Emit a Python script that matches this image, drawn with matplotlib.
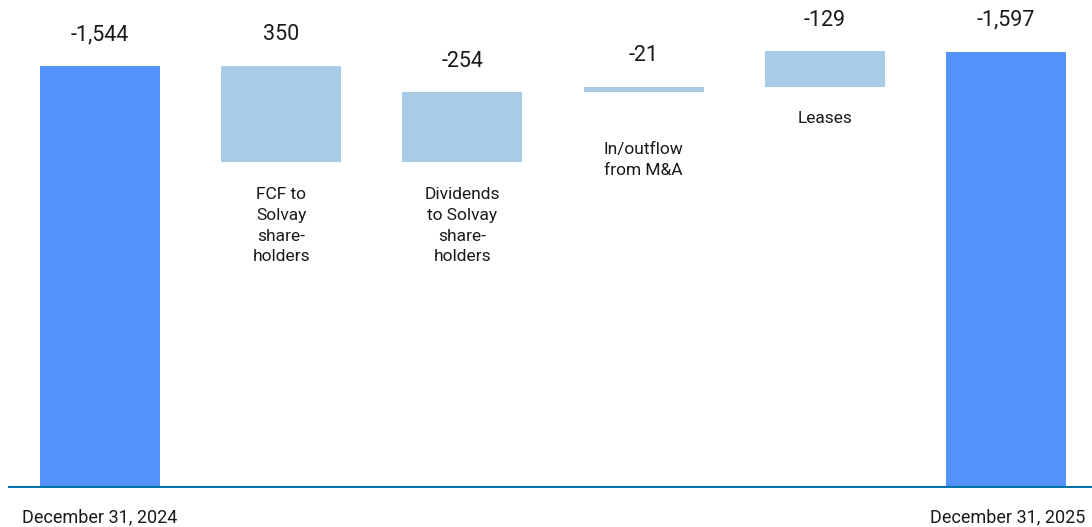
import matplotlib
matplotlib.use("Agg")
import matplotlib.pyplot as plt

plt.rcParams['font.family'] = ['Roboto', 'DejaVu Sans']

categories = ["December 31, 2024", "FCF to\nSolvay\nshare-\nholders", "Dividends\nto Solvay\nshare-\nholders",
              "In/outflow\nfrom M&A", "Leases", "December 31, 2025"]
values = [-1544, 350, -254, -21, -129, -1597]
value_labels = ["-1,544", "350", "-254", "-21", "-129", "-1,597"]
kinds = ["total", "delta", "delta", "delta", "delta", "total"]

W, H = 1092, 527
fig = plt.figure(figsize=(W / 100, H / 100), dpi=100)
ax = fig.add_axes([8 / W, (H - 488) / H, (W - 8) / W, 488 / H])

dark = "#5592f9"
light = "#a8cce7"
level = 0
bottoms, heights = [], []
for v, k in zip(values, kinds):
    if k == "total":
        bottoms.append(0)
        heights.append(-v)
        level = -v
    else:
        new = level - v
        bottoms.append(min(level, new))
        heights.append(abs(v))
        level = new

xs = list(range(len(values)))
colors = [dark if k == "total" else light for k in kinds]
ax.bar(xs, heights, bottom=bottoms, width=0.662, color=colors, zorder=2)
ax.axhline(0, color="#0074a8", lw=2.9, zorder=3)

ax.set_xlim(-0.5077, 5.474)
ax.set_ylim(0, 1786)
ax.axis("off")

for x, b, h, lab in zip(xs, bottoms, heights, value_labels):
    ax.annotate(lab, (x, b + h), xytext=(0, 22.5), textcoords="offset points",
                ha="center", va="center", fontsize=15.5, color="#1a1a1a")

cat_offsets = [0, 18.5, 18.5, 36, 22.7, 0]
for x, b, k, cat, off in zip(xs, bottoms, kinds, categories, cat_offsets):
    if k == "delta":
        ax.annotate(cat, (x, b), xytext=(0, -off), textcoords="offset points",
                    ha="center", va="center" if cat.count("\n") == 0 else "top",
                    fontsize=12.5, color="#1a1a1a", linespacing=1.47)

fig.text(22 / W, 1 - 517 / H, categories[0], ha="left", va="center", fontsize=13, color="#1a1a1a")
fig.text(1085 / W, 1 - 517 / H, categories[-1], ha="right", va="center", fontsize=13, color="#1a1a1a")

fig.savefig("out.png", dpi=100)
